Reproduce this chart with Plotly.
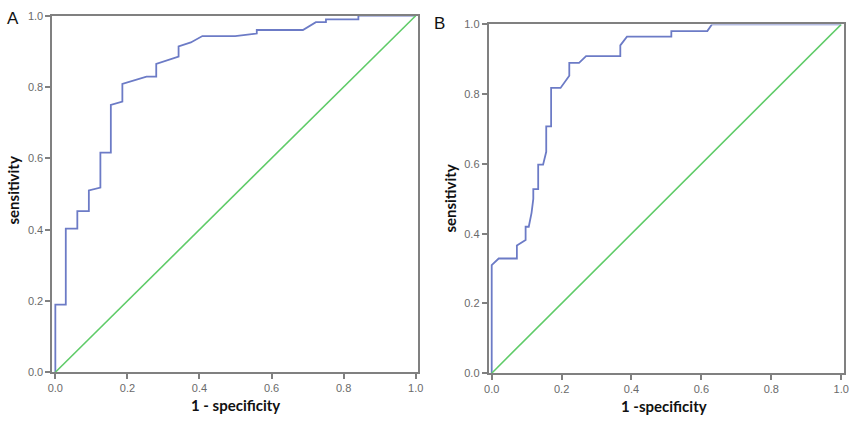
import plotly.graph_objects as go

# Panel A ROC curve (1 - specificity, sensitivity)
fpr_a = [0, 0, 0.029, 0.029, 0.061, 0.061, 0.093, 0.093, 0.125, 0.125, 0.154, 0.154,
         0.186, 0.186, 0.253, 0.28, 0.28, 0.342, 0.342, 0.376, 0.408, 0.499, 0.559,
         0.559, 0.687, 0.723, 0.751, 0.751, 0.841, 0.841, 1.0]
tpr_a = [0, 0.19, 0.19, 0.403, 0.403, 0.452, 0.452, 0.51, 0.518, 0.616, 0.616, 0.75,
         0.759, 0.809, 0.829, 0.829, 0.865, 0.885, 0.914, 0.925, 0.943, 0.943, 0.95,
         0.96, 0.96, 0.982, 0.982, 0.99, 0.99, 1.0, 1.0]

# Panel B ROC curve
fpr_b = [0, 0, 0.02, 0.072, 0.072, 0.097, 0.097, 0.106, 0.114, 0.119, 0.119, 0.133,
         0.133, 0.147, 0.156, 0.156, 0.17, 0.17, 0.197, 0.222, 0.222, 0.25, 0.27,
         0.368, 0.368, 0.387, 0.514, 0.514, 0.617, 0.63, 1.0]
tpr_b = [0, 0.31, 0.329, 0.329, 0.366, 0.382, 0.42, 0.42, 0.46, 0.50, 0.528, 0.528,
         0.598, 0.598, 0.635, 0.708, 0.708, 0.818, 0.818, 0.853, 0.89, 0.89, 0.909,
         0.909, 0.94, 0.965, 0.965, 0.981, 0.981, 1.0, 1.0]

# Reference diagonal
diag = [0, 1]

tick_vals = [0.0, 0.2, 0.4, 0.6, 0.8, 1.0]
tick_text = ["0.0", "0.2", "0.4", "0.6", "0.8", "1.0"]

panel_labels = ["A", "B"]
x_titles = ["1 - specificity", "1 -specificity"]
y_title = "sensitivity"

BLUE = "#6C7BC6"
GREEN = "#5FCB68"
AXIS = "#808080"

W, H = 861, 422

fig = go.Figure()
fig.add_trace(go.Scatter(x=fpr_a, y=tpr_a, mode="lines", line=dict(color=BLUE, width=1.8),
                         xaxis="x", yaxis="y", showlegend=False))
fig.add_trace(go.Scatter(x=diag, y=diag, mode="lines", line=dict(color=GREEN, width=1.6),
                         xaxis="x", yaxis="y", showlegend=False))
fig.add_trace(go.Scatter(x=fpr_b, y=tpr_b, mode="lines", line=dict(color=BLUE, width=1.8),
                         xaxis="x2", yaxis="y2", showlegend=False))
fig.add_trace(go.Scatter(x=diag, y=diag, mode="lines", line=dict(color=GREEN, width=1.6),
                         xaxis="x2", yaxis="y2", showlegend=False))

def px_x(p):
    return p / W

def px_y(p):
    return 1 - p / H

common = dict(showline=True, linecolor=AXIS, linewidth=2, mirror=True, showgrid=False,
              zeroline=False, ticks="outside", ticklen=5, tickwidth=1.5, tickcolor=AXIS,
              tickvals=tick_vals, ticktext=tick_text,
              tickfont=dict(family="Liberation Sans, Arial", size=11, color="#6a6a6a"))
title_font = dict(family="Lato, Open Sans", size=15, color="#111111")

fig.update_layout(
    width=W, height=H, margin=dict(l=0, r=0, t=0, b=0),
    paper_bgcolor="white", plot_bgcolor="white",
    xaxis=dict(domain=[px_x(48), px_x(418)], range=[-0.0082, 1.0055], anchor="y", **common),
    yaxis=dict(domain=[px_y(377), px_y(10)], range=[0, 1], anchor="x", **common),
    xaxis2=dict(domain=[px_x(490), px_x(850)], range=[-0.0085, 1.0085], anchor="y2", **common),
    yaxis2=dict(domain=[px_y(378), px_y(19)], range=[0, 1], anchor="x2", **common),
)

annots = []
annots.append(dict(text=panel_labels[0], x=px_x(0), y=px_y(13), xref="paper", yref="paper",
                   xanchor="left", yanchor="middle", showarrow=False,
                   font=dict(family="Liberation Sans, Arial", size=17, color="#111")))
annots.append(dict(text=panel_labels[1], x=px_x(433), y=px_y(18), xref="paper", yref="paper",
                   xanchor="left", yanchor="middle", showarrow=False,
                   font=dict(family="Liberation Sans, Arial", size=17, color="#111")))
annots.append(dict(text="<b>" + x_titles[0] + "</b>", x=px_x(233), y=px_y(411), xref="paper",
                   yref="paper", xanchor="center", yanchor="middle", showarrow=False, font=title_font))
annots.append(dict(text="<b>" + x_titles[1] + "</b>", x=px_x(668), y=px_y(412), xref="paper",
                   yref="paper", xanchor="center", yanchor="middle", showarrow=False, font=title_font))
annots.append(dict(text="<b>" + y_title + "</b>", x=px_x(8), y=px_y(190), xref="paper",
                   yref="paper", xanchor="center", yanchor="middle", showarrow=False,
                   textangle=-90, font=title_font))
annots.append(dict(text="<b>" + y_title + "</b>", x=px_x(451), y=px_y(198), xref="paper",
                   yref="paper", xanchor="center", yanchor="middle", showarrow=False,
                   textangle=-90, font=title_font))
fig.update_layout(annotations=annots)

fig.write_html("out.html")
